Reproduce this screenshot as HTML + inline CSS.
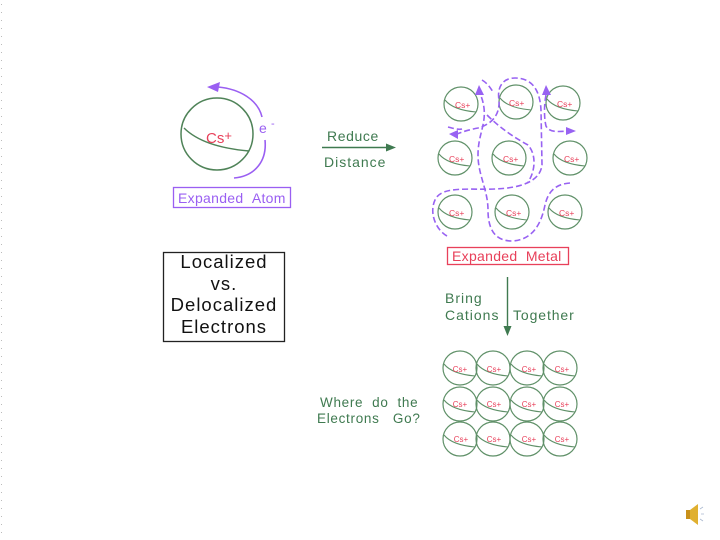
<!DOCTYPE html>
<html><head><meta charset="utf-8"><style>
html,body{margin:0;padding:0;background:#fff;}
svg{display:block;}
text{font-family:"Liberation Sans",sans-serif;}
</style></head><body>
<svg width="720" height="540" viewBox="0 0 720 540" xmlns="http://www.w3.org/2000/svg">
<defs>
<g id="cat">
<circle cx="0" cy="0" r="17" fill="none" stroke="#5f9068" stroke-width="1.2"/>
<path d="M-16,-4 Q-8,6 15,8" fill="none" stroke="#5f9068" stroke-width="1.1"/>
</g>
</defs>
<rect width="720" height="540" fill="#fff"/>
<line x1="1.5" y1="4" x2="1.5" y2="540" stroke="#bbb" stroke-width="1" stroke-dasharray="1 7"/>

<!-- Expanded atom -->
<circle cx="217" cy="134" r="36" fill="none" stroke="#4f8358" stroke-width="1.5"/>
<path d="M184,128 Q203,147 249,151" fill="none" stroke="#4f8358" stroke-width="1.4"/>
<text x="206" y="143" font-size="15" fill="#e8405a">Cs<tspan font-size="13" dy="-3">+</tspan></text>
<path d="M262,117 C258,100 240,89 218,87" fill="none" stroke="#9a5ff2" stroke-width="1.6"/>
<polygon points="207,87 220,82 218,92" fill="#9a5ff2"/>
<path d="M265,140 C267,160 256,176 234,178" fill="none" stroke="#9a5ff2" stroke-width="1.6"/>
<text x="259" y="133" font-size="14" fill="#9a5ff2">e</text>
<text x="271" y="127" font-size="11" fill="#9a5ff2">-</text>
<rect x="173.5" y="187.5" width="117" height="20" fill="none" stroke="#9a5ff2" stroke-width="1.3"/>
<text x="178" y="203" font-size="14" fill="#9a5ff2" letter-spacing="0.3">Expanded&#160;&#160;Atom</text>

<!-- Reduce distance arrow -->
<text x="327" y="141" font-size="14" fill="#3f7a50" letter-spacing="0.6">Reduce</text>
<line x1="322" y1="147.5" x2="388" y2="147.5" stroke="#3f7a50" stroke-width="1.4"/>
<polygon points="396,147.5 386,143.5 386,151.5" fill="#3f7a50"/>
<text x="324" y="167" font-size="14" fill="#3f7a50" letter-spacing="1">Distance</text>

<!-- Localized box -->
<rect x="163.5" y="252.5" width="121" height="89" fill="none" stroke="#222" stroke-width="1.3"/>
<g font-size="18.5" fill="#111" text-anchor="middle" letter-spacing="1">
<text x="224" y="268">Localized</text>
<text x="224" y="290">vs.</text>
<text x="224" y="311">Delocalized</text>
<text x="224" y="333">Electrons</text>
</g>

<!-- Expanded metal -->
<g>
<use href="#cat" x="461" y="104"/><use href="#cat" x="516" y="102"/><use href="#cat" x="563" y="103"/>
<use href="#cat" x="455" y="158"/><use href="#cat" x="509" y="158"/><use href="#cat" x="570" y="158"/>
<use href="#cat" x="455" y="212"/><use href="#cat" x="512" y="212"/><use href="#cat" x="565" y="212"/>
</g>
<g font-size="8.5" fill="#e8405a">
<text x="455" y="108">Cs+</text><text x="509" y="106">Cs+</text><text x="557" y="107">Cs+</text>
<text x="449" y="162">Cs+</text><text x="503" y="162">Cs+</text><text x="564" y="162">Cs+</text>
<text x="449" y="216">Cs+</text><text x="506" y="216">Cs+</text><text x="559" y="216">Cs+</text>
</g>
<g fill="none" stroke="#9862f2" stroke-width="1.6" stroke-dasharray="6 3">
<path d="M447,236 C436,230 428,212 436,198 C444,186 470,190 495,189 C520,188 540,182 542,165 L541,110 C540,90 532,78 515,78 C502,78 497,88 499,100 C500,115 492,124 478,128 C468,130 462,132 457,134"/>
<path d="M570,183 C555,184 548,192 545,205 C541,225 532,240 512,241 C494,241 488,228 488,210 C488,190 478,175 478,155 C478,135 486,125 484,108 C483,100 481,96 480,94"/>
<path d="M487,115 C500,128 515,138 528,145 C537,155 535,172 528,182"/>
<path d="M546,95 C544,105 544,118 546,126 C549,132 556,132 567,131"/>
<path d="M482,80 C487,83 490,87 493,92"/>
<path d="M448,127 C452,128 458,130 462,129"/>
</g>
<g fill="#9862f2">
<polygon points="449,134 458,130 458,139"/>
<polygon points="479,85 475,95 484,95"/>
<polygon points="546,85 542,95 551,95"/>
<polygon points="576,131 566,127 566,135"/>
</g>
<rect x="447.5" y="247.5" width="121" height="17" fill="none" stroke="#e8405a" stroke-width="1.3"/>
<text x="452" y="261" font-size="14" fill="#e8405a" letter-spacing="0.3">Expanded&#160;&#160;Metal</text>

<!-- Bring cations together -->
<text x="445" y="303" font-size="14" fill="#3f7a50" letter-spacing="1">Bring</text>
<text x="445" y="320" font-size="14" fill="#3f7a50" letter-spacing="1">Cations</text>
<text x="513" y="320" font-size="14" fill="#3f7a50" letter-spacing="0.9">Together</text>
<line x1="507.5" y1="277" x2="507.5" y2="328" stroke="#3f7a50" stroke-width="1.4"/>
<polygon points="507.5,336 503.5,326 511.5,326" fill="#3f7a50"/>

<!-- Compact lattice -->
<g>
<use href="#cat" x="460" y="368"/><use href="#cat" x="493" y="368"/><use href="#cat" x="527" y="368"/><use href="#cat" x="560" y="368"/>
<use href="#cat" x="460" y="404"/><use href="#cat" x="493" y="404"/><use href="#cat" x="527" y="404"/><use href="#cat" x="560" y="404"/>
<use href="#cat" x="460" y="439"/><use href="#cat" x="493" y="439"/><use href="#cat" x="527" y="439"/><use href="#cat" x="560" y="439"/>
</g>
<g font-size="8" fill="#e8405a" text-anchor="middle">
<text x="460" y="372">Cs+</text><text x="494" y="372">Cs+</text><text x="529" y="372">Cs+</text><text x="562" y="372">Cs+</text>
<text x="460" y="407">Cs+</text><text x="494" y="407">Cs+</text><text x="529" y="407">Cs+</text><text x="562" y="407">Cs+</text>
<text x="461" y="442">Cs+</text><text x="494" y="442">Cs+</text><text x="529" y="442">Cs+</text><text x="562" y="442">Cs+</text>
</g>
<text x="320" y="407" font-size="13.5" fill="#3f7a50" letter-spacing="0.7">Where&#160;&#160;do&#160;&#160;the</text>
<text x="317" y="423" font-size="13.5" fill="#3f7a50" letter-spacing="0.7">Electrons&#160;&#160;&#160;Go?</text>

<!-- Speaker icon -->
<g>
<rect x="686" y="510" width="5" height="9" fill="#c8901a"/>
<polygon points="690,510 698,504 698,525 690,519" fill="#e0b030"/>
<path d="M700,509 l3,-2 M701,514 h3 M700,519 l3,2" stroke="#aab8d0" stroke-width="0.8"/>
</g>
</svg>
</body></html>
